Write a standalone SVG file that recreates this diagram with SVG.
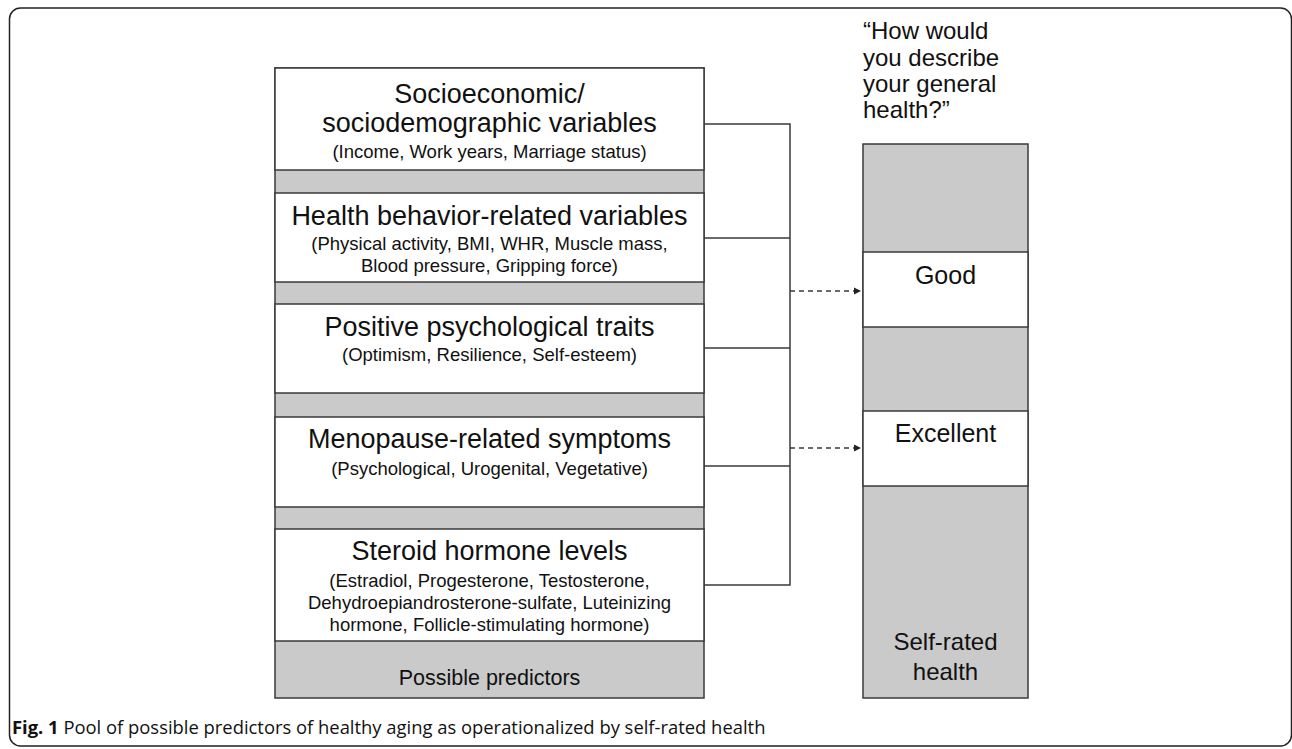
<svg xmlns="http://www.w3.org/2000/svg" width="1292" height="749" viewBox="0 0 1292 749">
<style>
.w{fill:#fff;stroke:#3a3a3a;stroke-width:1.5}
.g{fill:#cacaca;stroke:#3a3a3a;stroke-width:1.5}
.t{font-family:"Liberation Sans",Arial,sans-serif;font-size:27px;fill:#111;text-anchor:middle}
.s{font-family:"Liberation Sans",Arial,sans-serif;font-size:18.5px;fill:#111;text-anchor:middle}
.r{font-family:"Liberation Sans",Arial,sans-serif;font-size:24px;fill:#111;text-anchor:middle}
.q{font-family:"Liberation Sans",Arial,sans-serif;font-size:24px;fill:#111}
.c{font-family:"Open Sans",sans-serif;font-size:18.4px;fill:#111}
.ln{fill:none;stroke:#3a3a3a;stroke-width:1.5}
.dash{fill:none;stroke:#3a3a3a;stroke-width:1.3;stroke-dasharray:5,4}
</style>
<defs>
<marker id="ah" markerWidth="8" markerHeight="8" refX="7" refY="4" orient="auto" markerUnits="userSpaceOnUse">
<path d="M0,0.5 L7,4 L0,7.5 Z" fill="#222"/>
</marker>
</defs>
<rect x="9.5" y="8" width="1282" height="738" rx="11" fill="none" stroke="#222" stroke-width="1.5"/>

<g id="predictors">
<rect class="g" x="275" y="68" width="429" height="630"/>
<rect class="w" x="275" y="68" width="429" height="102"/>
<rect class="w" x="275" y="193" width="429" height="89"/>
<rect class="w" x="275" y="304" width="429" height="89"/>
<rect class="w" x="275" y="417" width="429" height="90"/>
<rect class="w" x="275" y="529" width="429" height="112"/>
</g>
<g id="socio">
<text class="t" x="489.5" y="103">Socioeconomic/</text>
<text class="t" x="489.5" y="132">sociodemographic variables</text>
<text class="s" x="489.5" y="158">(Income, Work years, Marriage status)</text>
</g>
<g id="health-behavior">
<text class="t" x="489.5" y="225">Health behavior-related variables</text>
<text class="s" x="489.5" y="250">(Physical activity, BMI, WHR, Muscle mass,</text>
<text class="s" x="489.5" y="272">Blood pressure, Gripping force)</text>
</g>
<g id="psych">
<text class="t" x="489.5" y="336">Positive psychological traits</text>
<text class="s" x="489.5" y="361">(Optimism, Resilience, Self-esteem)</text>
</g>
<g id="menopause">
<text class="t" x="489.5" y="448">Menopause-related symptoms</text>
<text class="s" x="489.5" y="475">(Psychological, Urogenital, Vegetative)</text>
</g>
<g id="steroid">
<text class="t" x="489.5" y="560">Steroid hormone levels</text>
<text class="s" x="489.5" y="587">(Estradiol, Progesterone, Testosterone,</text>
<text class="s" x="489.5" y="609">Dehydroepiandrosterone-sulfate, Luteinizing</text>
<text class="s" x="489.5" y="631">hormone, Follicle-stimulating hormone)</text>
</g>
<g id="possible-predictors">
<text class="r" x="489.5" y="685" style="font-size:21.5px">Possible predictors</text>
</g>

<g id="question">
<text class="q" x="863" y="39">“How would</text>
<text class="q" x="863" y="66">you describe</text>
<text class="q" x="863" y="92">your general</text>
<text class="q" x="863" y="118">health?”</text>
</g>
<g id="self-rated">
<rect class="g" x="863" y="144" width="165" height="554"/>
<text class="r" x="945.5" y="650">Self-rated</text>
<text class="r" x="945.5" y="680">health</text>
</g>
<g id="good">
<rect class="w" x="863" y="252" width="165" height="75"/>
<text class="r" x="945.5" y="284" style="font-size:25px">Good</text>
</g>
<g id="excellent">
<rect class="w" x="863" y="411" width="165" height="75"/>
<text class="r" x="945.5" y="442" style="font-size:25px">Excellent</text>
</g>

<g id="connectors">
<path class="ln" d="M704,124 H790 V585 H704 M704,238 H790 M704,348 H790 M704,466 H790"/>
<path class="dash" d="M790,291 H861" marker-end="url(#ah)"/>
<path class="dash" d="M790,448 H861" marker-end="url(#ah)"/>
</g>

<text class="c" x="12" y="734"><tspan font-weight="bold">Fig. 1</tspan> Pool of possible predictors of healthy aging as operationalized by self-rated health</text>
</svg>
